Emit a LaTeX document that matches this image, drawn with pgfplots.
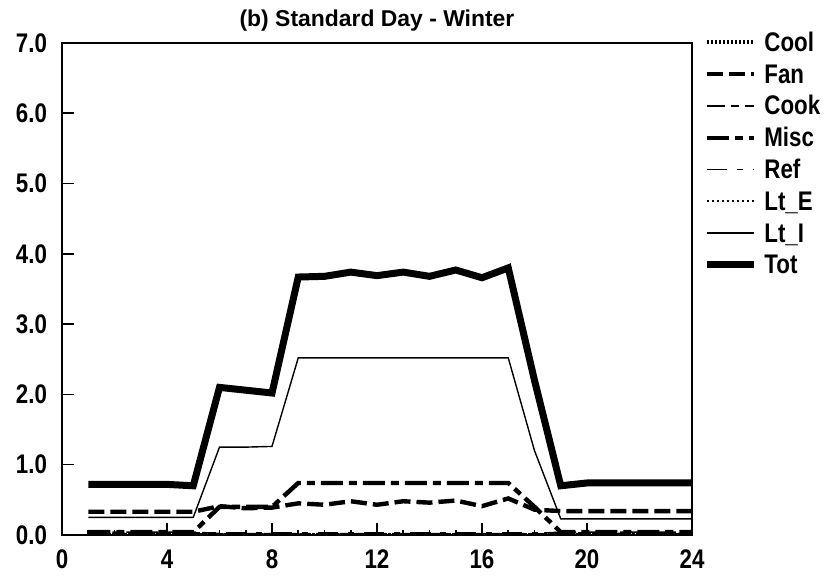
\documentclass[border=0pt]{standalone}
\usepackage{fontspec}
\setmainfont{Liberation Sans}[FakeStretch=0.83]
\newfontfamily\titlefont{Liberation Sans}
\usepackage{pgfplots}
\usepackage{pgfplotstable}
\pgfplotsset{compat=1.18}

% hourly loads, standard winter day
\pgfplotstableread{
h  cool fan  cook misc ref  lte  lti  tot
1  0    0.33 0.04 0.04 0.03 0.02 0.25 0.72
2  0    0.33 0.04 0.04 0.03 0.02 0.25 0.72
3  0    0.33 0.04 0.04 0.03 0.02 0.25 0.72
4  0    0.33 0.04 0.04 0.03 0.02 0.25 0.72
5  0    0.33 0.04 0.04 0.03 0.02 0.25 0.70
6  0    0.41 0.02 0.40 0.03 0.01 1.25 2.10
7  0    0.38 0.02 0.40 0.03 0.01 1.25 2.06
8  0    0.39 0.02 0.40 0.03 0.01 1.26 2.02
9  0    0.45 0.02 0.74 0.03 0.01 2.52 3.67
10 0    0.43 0.02 0.74 0.03 0.01 2.52 3.68
11 0    0.48 0.02 0.74 0.03 0.01 2.52 3.74
12 0    0.43 0.02 0.74 0.03 0.01 2.52 3.69
13 0    0.48 0.02 0.74 0.03 0.01 2.52 3.74
14 0    0.46 0.02 0.74 0.03 0.01 2.52 3.68
15 0    0.49 0.02 0.74 0.03 0.01 2.52 3.77
16 0    0.41 0.02 0.74 0.03 0.01 2.52 3.66
17 0    0.52 0.02 0.74 0.03 0.01 2.52 3.80
18 0    0.36 0.02 0.40 0.03 0.01 1.20 2.20
19 0    0.34 0.04 0.04 0.03 0.02 0.23 0.70
20 0    0.34 0.04 0.04 0.03 0.02 0.23 0.74
21 0    0.34 0.04 0.04 0.03 0.02 0.23 0.74
22 0    0.34 0.04 0.04 0.03 0.02 0.23 0.74
23 0    0.34 0.04 0.04 0.03 0.02 0.23 0.74
24 0    0.34 0.04 0.04 0.03 0.02 0.23 0.74
}\loads

\begin{document}
\begin{tikzpicture}
\begin{axis}[
    scale only axis,
    width=315bp, height=246bp,
    xmin=0, xmax=24, ymin=0, ymax=7,
    xtick={0,4,...,24}, minor x tick num=3,
    ytick={0,1,...,7},
    tick align=inside,
    xtick pos=left, ytick pos=left,
    major tick length=6bp, minor tick length=2.5bp,
    every tick/.style={black, line width=0.8bp},
    axis line style={line width=0.8bp},
    /pgf/number format/assume math mode=true,
    ticklabel style={font=\bfseries\fontsize{13.5}{14}\selectfont},
    xticklabel style={yshift=-4bp},
    yticklabel style={xshift=-4bp, /pgf/number format/.cd, fixed, fixed zerofill, precision=1},
    title={(b) Standard Day - Winter},
    every axis title shift=0pt,
    title style={font=\titlefont\bfseries\fontsize{11.5}{13}\selectfont,
        at={(0.5,1)}, anchor=base, inner sep=0pt, yshift=8bp},
    legend style={at={(1,1)}, anchor=north west, xshift=5.5bp, yshift=6bp,
        draw=none, fill=none, inner sep=0pt, row sep=4.9bp,
        font=\bfseries\fontsize{13.5}{14}\selectfont,
        nodes={inner sep=0pt, text height=10bp, text depth=1bp},
        /tikz/every odd column/.append style={column sep=3.5bp}},
    legend cell align=left,
    legend image code/.code={\draw[#1] (0bp,0bp) -- (23.5bp,0bp);},
]
\addplot[black, line width=2bp, dash pattern=on 1.2bp off 0.8bp] table[x=h, y=cool] {\loads};
\addlegendentry{Cool}
\addplot[black, line width=2.2bp, dash pattern=on 8bp off 3bp] table[x=h, y=fan] {\loads};
\addlegendentry{Fan}
\addplot[black, line width=0.8bp, dash pattern=on 9bp off 3bp on 4bp off 3bp] table[x=h, y=cook] {\loads};
\addlegendentry{Cook}
\addplot[black, line width=2.2bp, dash pattern=on 11bp off 3bp on 4bp off 3bp] table[x=h, y=misc] {\loads};
\addlegendentry{Misc}
\addplot[black, line width=0.7bp, dash pattern=on 10bp off 5bp on 3bp off 5bp] table[x=h, y=ref] {\loads};
\addlegendentry{Ref}
\addplot[black, line width=1bp, dash pattern=on 1bp off 1.5bp] table[x=h, y=lte] {\loads};
\addlegendentry{Lt\_E}
\addplot[black, line width=0.7bp] table[x=h, y=lti] {\loads};
\addlegendentry{Lt\_I}
\addplot[black, line width=3.5bp] table[x=h, y=tot] {\loads};
\addlegendentry{Tot}
\end{axis}
\pgfresetboundingbox
\path[use as bounding box] ([shift={(-31bp,-22.5bp)}]current axis.south west)
    rectangle ([shift={(68bp,21.5bp)}]current axis.north east);
\end{tikzpicture}
\end{document}
